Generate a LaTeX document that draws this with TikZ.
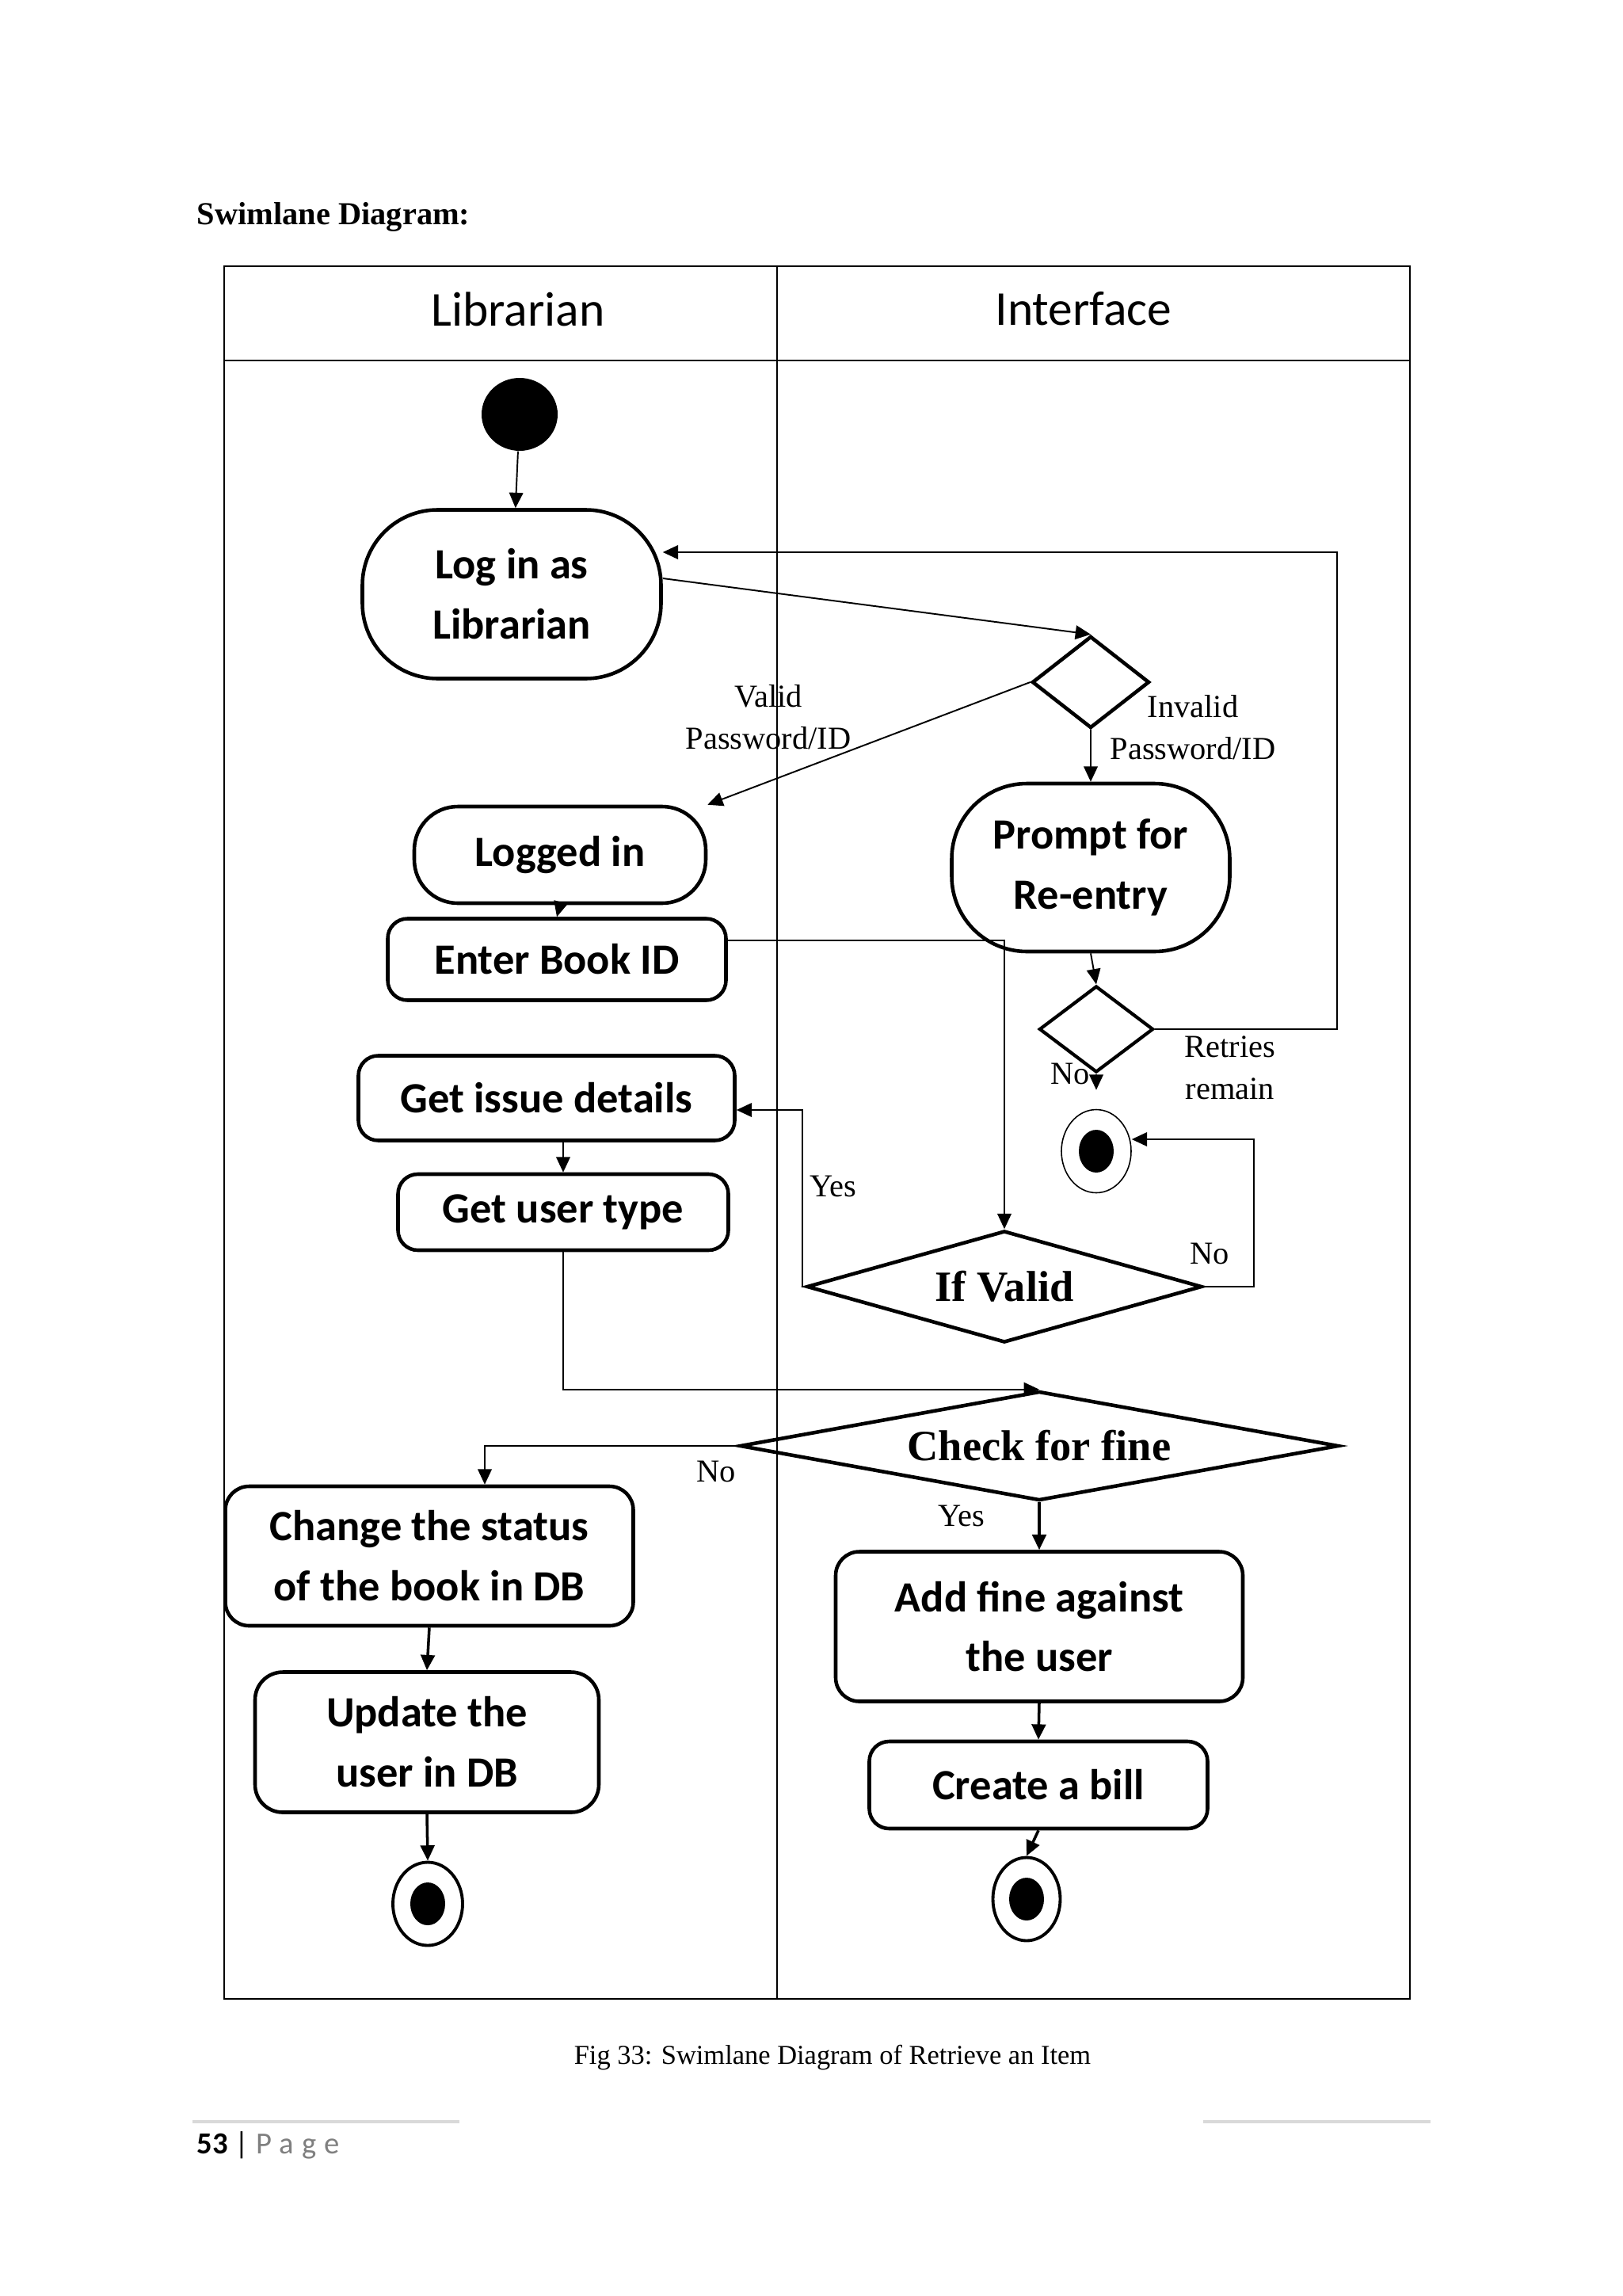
\documentclass[tikz,border=0pt]{standalone}
\usepackage{fontspec}
\setmainfont{Liberation Serif}
\newfontfamily\calib{Carlito}
\usetikzlibrary{arrows.meta,shapes.geometric,positioning}
\definecolor{pagegray}{RGB}{127,127,127}
\definecolor{rulegray}{RGB}{217,217,217}

\begin{document}
\begin{tikzpicture}[activity/.style={draw,line width=1.3pt,rounded corners=0.25cm,align=center,inner sep=0pt,font=\calib\bfseries\fontsize{15.5}{21.6}\selectfont},
        decision/.style={diamond,draw,line width=1.3pt,inner sep=0pt,font=\bfseries\fontsize{15.5}{18}\selectfont},
        flow/.style={-{Triangle[length=5.5pt,width=5pt]},line width=0.55pt},
        thickflow/.style={flow,line width=1pt},
        lbl/.style={align=center,font=\fontsize{11.5}{15}\selectfont},
        lane/.style={font=\calib\fontsize{17.5}{20}\selectfont},
        initnode/.style={ellipse,fill,inner sep=0pt,minimum width=0.96cm,minimum height=0.92cm},
        endnode/.style={ellipse,draw,line width=1.1pt,inner sep=0pt,minimum width=0.88cm,minimum height=1.05cm,
            path picture={\fill (path picture bounding box.center) ellipse [x radius=0.22cm,y radius=0.27cm];}}]

                \useasboundingbox (0,0) rectangle (20.48,-28.98);

                \node[anchor=west,inner sep=0pt,font=\bfseries\fontsize{11.5}{14}\selectfont] at (2.48,-2.74) (title) {Swimlane Diagram:};

                \draw[line width=0.8pt] (2.83,-3.36) rectangle (17.80,-25.23);
                \draw[line width=0.8pt] (2.83,-4.55) -- (17.80,-4.55);
                \draw[line width=0.6pt] (9.81,-3.36) -- (9.81,-25.23);
                \node[lane] at (6.54,-3.90) (lib) {Librarian};
                \node[lane] at (13.68,-3.90) (intf) {Interface};

                \node[initnode] at (6.56,-5.23) (start) {};
                \node[activity,rounded corners=0.95cm,minimum width=3.77cm,minimum height=2.13cm] at (6.46,-7.50) (login) {Log in as\\Librarian};
                \node[decision,aspect=1.3,minimum width=1.48cm,minimum height=1.16cm] at (13.77,-8.61) (check) {};
                \node[activity,rounded corners=0.55cm,minimum width=3.68cm,minimum height=1.22cm] at (7.07,-10.79) (logged) {Logged in};
                \node[activity,rounded corners=0.95cm,minimum width=3.51cm,minimum height=2.12cm] at (13.77,-10.95) (prompt) {Prompt for\\Re-entry};
                \node[activity,minimum width=4.27cm,minimum height=1.03cm] at (7.03,-12.11) (bookid) {Enter Book ID};
                \node[decision,aspect=1.3,line width=1.2pt,minimum width=1.44cm,minimum height=1.09cm] at (13.84,-12.99) (retry) {};
                \node[endnode,line width=0.45pt] at (13.84,-14.53) (stopA) {};
                \node[activity,minimum width=4.75cm,minimum height=1.07cm] at (6.90,-13.86) (issue) {Get issue details};
                \node[activity,minimum width=4.17cm,minimum height=0.96cm] at (7.11,-15.30) (usertype) {Get user type};
                \node[decision,aspect=3.5,minimum width=4.99cm,minimum height=1.41cm] at (12.68,-16.24) (ifvalid) {If Valid};
                \node[decision,aspect=5.5,minimum width=7.56cm,minimum height=1.38cm] at (13.12,-18.25) (fine) {Check for fine};
                \node[activity,rounded corners=0.3cm,minimum width=5.15cm,minimum height=1.76cm] at (5.42,-19.64) (status) {Change the status\\of the book in DB};
                \node[activity,rounded corners=0.35cm,minimum width=4.34cm,minimum height=1.77cm] at (5.39,-21.99) (update) {Update the\\user in DB};
                \node[endnode] at (5.40,-24.03) (stopB) {};
                \node[activity,rounded corners=0.3cm,minimum width=5.14cm,minimum height=1.89cm] at (13.12,-20.53) (addfine) {Add fine against\\the user};
                \node[activity,minimum width=4.27cm,minimum height=1.10cm] at (13.11,-22.53) (bill) {Create a bill};
                \node[endnode,minimum width=0.85cm] at (12.96,-23.97) (stopC) {};

                \coordinate (loopT) at (16.88,-6.97);

                \path[flow] (start) edge (login);
                \path[flow] ([yshift=0.2cm]login.east) edge (check.north);
                \path[flow] (check.west) edge (logged.north east);
                \path[flow] (check.south) edge (prompt.north);
                \path[flow] (prompt.south) edge (retry.north);
                \draw[flow] (retry.east) -| (loopT) -- (login.east |- loopT);
                \path[flow] (logged.south) edge (bookid.north);
                \draw[flow] ([yshift=0.24cm]bookid.east) -| (ifvalid.north);
                \path[flow,shorten >=0.24cm] (retry.south) edge (stopA.north);
                \path[flow] (issue.south -| usertype.north) edge (usertype.north);
                \draw[flow] (ifvalid.west) -- ++(-0.03,0) |- ([yshift=-0.15cm]issue.east);
                \draw[flow] (ifvalid.east) -- ++(0.63,0) |- ([yshift=0.15cm]stopA.east);
                \draw[flow] (usertype.south) |- (fine.north);
                \draw[flow] (fine.west) -| ([xshift=0.70cm]status.north);
                \path[thickflow] (fine.south) edge (addfine.north);
                \path[thickflow] (status.south) edge (update.north);
                \path[thickflow] (update.south) edge (stopB.north);
                \path[thickflow] (addfine.south) edge (bill.north);
                \path[thickflow] (bill.south) edge (stopC.north);

                \node[lbl] at (9.70,-9.05) (validlbl) {Valid\\Password/ID};
                \node[lbl] at (15.06,-9.18) (invalidlbl) {Invalid\\Password/ID};
                \node[lbl] at (13.51,-13.55) (nolblA) {No};
                \node[lbl] at (15.53,-13.48) (retrylbl) {Retries\\remain};
                \node[lbl] at (10.52,-14.97) (yeslblA) {Yes};
                \node[lbl] at (15.27,-15.82) (nolblB) {No};
                \node[lbl] at (9.04,-18.57) (nolblC) {No};
                \node[lbl] at (12.14,-19.13) (yeslblB) {Yes};

                \node[font=\fontsize{9.8}{12}\selectfont] at (10.51,-25.97) (caption) {Fig 33: Swimlane Diagram of Retrieve an Item};

                \draw[rulegray,line width=1pt] (2.43,-26.78) -- (5.80,-26.78);
                \draw[rulegray,line width=1pt] (15.19,-26.78) -- (18.06,-26.78);
                \node[anchor=west,inner sep=0pt,font=\calib\fontsize{11}{13}\selectfont] at (2.48,-27.08) (pagenum) {\textbf{53} | \textcolor{pagegray}{P\hspace{2.8pt}a\hspace{2.8pt}g\hspace{2.8pt}e}};

            \end{tikzpicture}
\end{document}
